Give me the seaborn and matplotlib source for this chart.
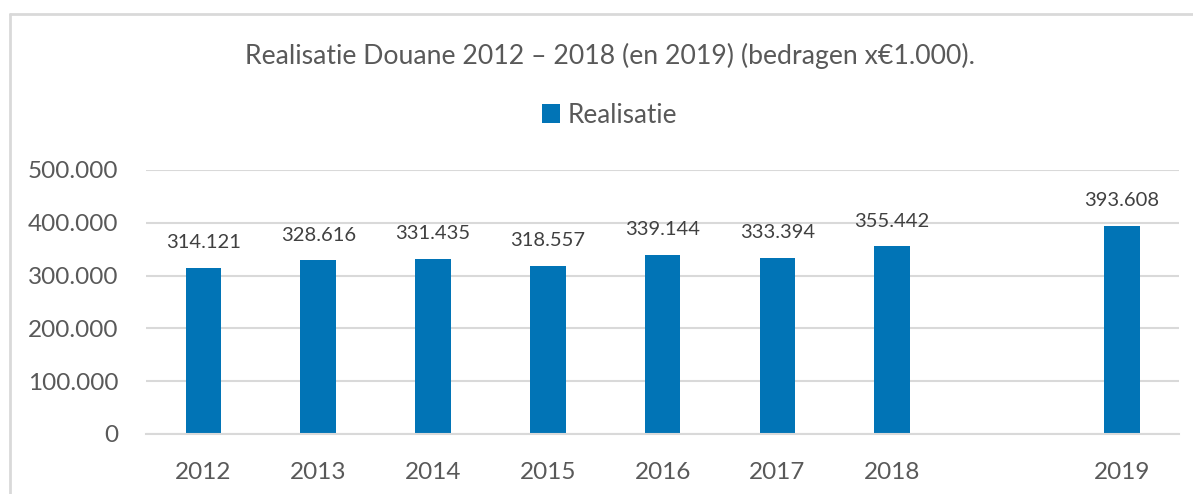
import pandas as pd
import matplotlib.pyplot as plt
import seaborn as sns
from matplotlib.lines import Line2D
from matplotlib.patches import Patch
from matplotlib.ticker import FuncFormatter

# data (bedragen x EUR 1.000)
years = ['2012', '2013', '2014', '2015', '2016', '2017', '2018', '2019']
realisatie = [314121, 328616, 331435, 318557, 339144, 333394, 355442, 393608]
# empty slot between 2018 and 2019
order = years[:7] + [' '] + years[7:]

BAR_COLOR = '#0174B6'
TEXT_COLOR = '#595959'
LABEL_COLOR = '#404040'
GRID_COLOR = '#D9D9D9'


def dutch_thousands(v):
    """314121 -> '314.121'"""
    return f"{v:,.0f}".replace(',', '.')


sns.set_theme(style='white')
plt.rcParams['font.family'] = ['Lato', 'DejaVu Sans']

df = pd.DataFrame({'jaar': years, 'realisatie': realisatie})

fig = plt.figure(figsize=(11.93, 4.94), dpi=100)
ax = fig.add_axes([0.1224, 0.1215, 0.866, 0.5345])

sns.barplot(data=df, x='jaar', y='realisatie', order=order, color=BAR_COLOR,
            saturation=1, width=0.31, linewidth=0, ax=ax)

ax.set_ylim(0, 500000)
ax.set_yticks(range(0, 500001, 100000))
ax.yaxis.set_major_formatter(FuncFormatter(lambda v, p: dutch_thousands(v)))
ax.yaxis.grid(True, color=GRID_COLOR, linewidth=1.5)
ax.set_axisbelow(True)
for side in ['top', 'right', 'left']:
    ax.spines[side].set_visible(False)
ax.spines['bottom'].set_color(GRID_COLOR)
ax.spines['bottom'].set_linewidth(1.5)
ax.set_xlabel('')
ax.set_ylabel('')
ax.tick_params(axis='y', labelsize=17.5, labelcolor=TEXT_COLOR, length=0, pad=20)
ax.tick_params(axis='x', labelsize=17.5, labelcolor=TEXT_COLOR, length=0, pad=20)

# value labels above the bars
for cont in ax.containers:
    ax.bar_label(cont, labels=[dutch_thousands(v) for v in cont.datavalues],
                 fontsize=14.5, color=LABEL_COLOR, padding=12)

fig.text(0.511, 0.886, 'Realisatie Douane 2012 \u2013 2018 (en 2019) (bedragen x\u20ac1.000).',
         ha='center', va='center', fontsize=19.2, color=TEXT_COLOR)

handles = [Patch(facecolor=BAR_COLOR, edgecolor='none', label='Realisatie')]
fig.legend(handles=handles, loc='center', bbox_to_anchor=(0.511, 0.767), frameon=False,
           fontsize=18.8, labelcolor=TEXT_COLOR, handlelength=0.7, handleheight=0.7,
           handletextpad=0.3)

# light grey outline of the chart area
fig.add_artist(Line2D([0.0088, 1.0], [0.9717, 0.9717], transform=fig.transFigure,
                      color=GRID_COLOR, linewidth=2))
fig.add_artist(Line2D([0.0088, 0.0088], [0.0, 0.9717], transform=fig.transFigure,
                      color=GRID_COLOR, linewidth=2))

fig.savefig('out.png', dpi=100)
plt.close(fig)
